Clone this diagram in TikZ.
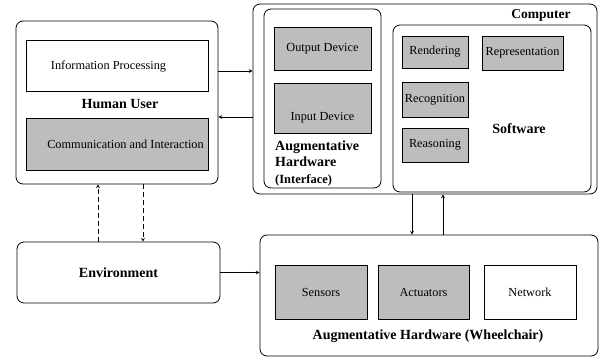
\documentclass[tikz,border=0pt]{standalone}
\usepackage{fontspec}
\setmainfont{Liberation Serif}
\usepackage{tikz}
\usetikzlibrary{
  positioning
}

\begin{document}
\begin{tikzpicture}[>=stealth, x=1pt, y=-1pt,
  outerbox/.style={draw, line width=0.8pt, rounded corners=7pt, inner sep=0pt},
  plainbox/.style={draw, line width=0.7pt, fill=white, inner sep=0pt, font=\fontsize{12.3}{14}\selectfont},
  shadebox/.style={plainbox, fill=black!26},
  title/.style={font=\fontsize{14}{16}\bfseries\selectfont},
  link/.style={->, line width=0.7pt}
]
  \useasboundingbox (0,0) rectangle (600,358);

  % human user
  \node [outerbox, minimum width=202, minimum height=163] (human) at (117,102.5) {};
  \node [plainbox, minimum width=182, minimum height=51] (info) at (117,66) {Information Processing\kern17pt\relax};
  \node [title] (humanlbl) at (120,104) {Human User};
  \node [shadebox, minimum width=182, minimum height=52] (comm) at (117,144) {\kern17pt Communication and Interaction};

  % computer
  \node [outerbox, minimum width=344, minimum height=190] (computer) at (425,99) {};
  \node [title, font=\fontsize{13.5}{15}\bfseries\selectfont] (complbl) at (541,15) {Computer};
  \node [outerbox, minimum width=117, minimum height=179] (iface) at (322.5,98.5) {};
  \node [shadebox, minimum width=97, minimum height=43] (outdev) at (322.5,48.5) {Output Device};
  \node [shadebox, minimum width=97, minimum height=50] (indev) at (322.5,108) {};
  \node [font=\fontsize{12.3}{14}\selectfont] (indevlbl) at (322.5,118) {Input Device};
  \node [title, anchor=north west, align=left, inner sep=0pt] (ifacelbl) at (275,141)
    {Augmentative\\[0pt] Hardware\\[1pt] {\fontsize{12.5}{14}\selectfont (Interface)}};

  \node [outerbox, minimum width=198, minimum height=167] (software) at (492,108.5) {};
  \node [shadebox, minimum width=66, minimum height=32] (render) at (435,52) {Rendering};
  \node [shadebox, minimum width=81, minimum height=34] (repr) at (522.5,53) {Representation};
  \node [shadebox, minimum width=66, minimum height=35] (recog) at (435,99.5) {Recognition};
  \node [shadebox, minimum width=66, minimum height=34] (reason) at (435,145) {Reasoning};
  \node [title] (softlbl) at (519,129) {Software};

  % environment
  \node [outerbox, minimum width=203, minimum height=61, title] (env) at (118.5,272.5) {Environment};

  % wheelchair
  \node [outerbox, minimum width=338, minimum height=121] (wheel) at (429,295.5) {};
  \node [shadebox, minimum width=92, minimum height=54] (sensors) at (321,292) {Sensors};
  \node [shadebox, minimum width=91, minimum height=54] (actuators) at (423.5,292) {Actuators};
  \node [plainbox, minimum width=92, minimum height=54] (network) at (530,292) {Network};
  \node [title] (wheellbl) at (428,336) {Augmentative Hardware (Wheelchair)};

  % connections
  \draw [link] ([yshift=31.5pt]human.east) -- ([yshift=31.5pt]human.east -| computer.west);
  \draw [link] ([yshift=-14.5pt]human.east -| computer.west) -- ([yshift=-14.5pt]human.east);
  \draw [link, dash pattern=on 5pt off 3pt] ([xshift=-19pt]human.south |- env.north) -- ([xshift=-19pt]human.south);
  \draw [link, dash pattern=on 5pt off 3pt] ([xshift=26pt]human.south) -- ([xshift=26pt]human.south |- env.north);
  \draw [link] (env.east) -- (env.east -| wheel.west);
  \draw [link] ([xshift=-13pt]computer.south) -- ([xshift=-13pt]computer.south |- wheel.north);
  \draw [link] ([xshift=18pt]computer.south |- wheel.north) -- ([xshift=18pt]computer.south);
\end{tikzpicture}
\end{document}
